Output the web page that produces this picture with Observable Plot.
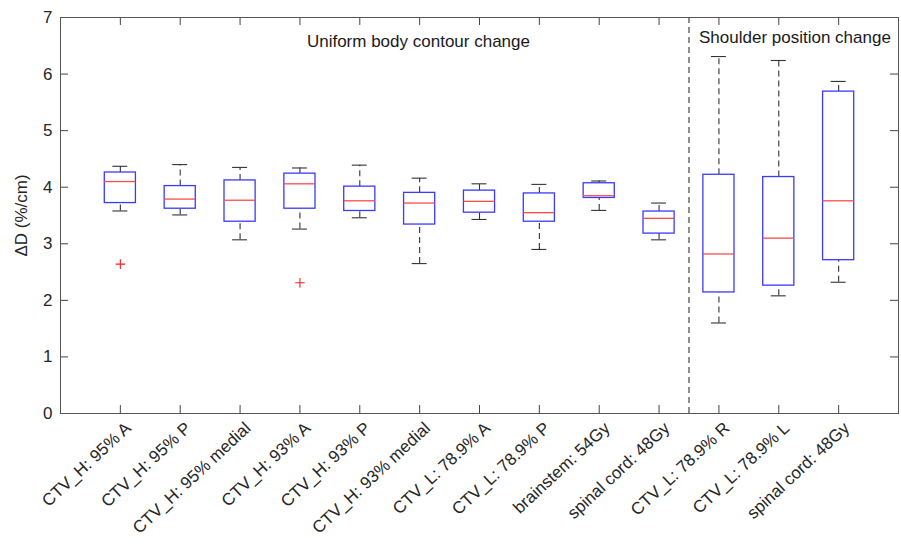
<!DOCTYPE html>
<html>
<head>
<meta charset="utf-8">
<script src="https://cdn.jsdelivr.net/npm/d3@7"></script>
<script src="https://cdn.jsdelivr.net/npm/@observablehq/plot@0.6"></script>
<style>
  html, body { margin: 0; padding: 0; background: #fff; }
  #chart { width: 901px; height: 545px; }
</style>
</head>
<body>
<div id="chart"></div>
<script>
const categories = [
  "CTV_H: 95% A", "CTV_H: 95% P", "CTV_H: 95% medial",
  "CTV_H: 93% A", "CTV_H: 93% P", "CTV_H: 93% medial",
  "CTV_L: 78.9% A", "CTV_L: 78.9% P", "brainstem: 54Gy",
  "spinal cord: 48Gy", "CTV_L: 78.9% R", "CTV_L: 78.9% L",
  "spinal cord: 48Gy"
];
const whiskerHigh = [4.37, 4.40, 4.35, 4.34, 4.39, 4.16, 4.06, 4.05, 4.11, 3.72, 6.31, 6.24, 5.87];
const q3Values    = [4.26, 4.02, 4.12, 4.24, 4.01, 3.90, 3.94, 3.89, 4.07, 3.57, 4.22, 4.18, 5.69];
const medians     = [4.10, 3.79, 3.77, 4.06, 3.76, 3.72, 3.75, 3.55, 3.85, 3.45, 2.82, 3.10, 3.76];
const q1Values    = [3.72, 3.62, 3.39, 3.62, 3.58, 3.34, 3.55, 3.39, 3.81, 3.18, 2.14, 2.26, 2.71];
const whiskerLow  = [3.58, 3.51, 3.07, 3.26, 3.46, 2.65, 3.43, 2.90, 3.59, 3.07, 1.60, 2.08, 2.32];
const outlierGroup = [1, 4];
const outlierValue = [2.64, 2.31];
const groupLabels = ["Uniform body contour change", "Shoulder position change"];
const yTicks = [0, 1, 2, 3, 4, 5, 6, 7];

const positions = categories.map((_, i) => i + 1);
const rows = categories.map((c, i) => ({
  pos: i + 1, label: c,
  hi: whiskerHigh[i], q3: q3Values[i], med: medians[i], q1: q1Values[i], lo: whiskerLow[i]
}));
const outliers = outlierGroup.map((g, i) => ({pos: g, v: outlierValue[i]}));

const boxHalf = 0.26, capHalf = 0.125;
const tickLenX = 0.134, tickLenY = 0.141;
const font = "'Liberation Sans', Arial, Helvetica, sans-serif";

const chart = Plot.plot({
  width: 901,
  height: 545,
  marginLeft: 60,
  marginRight: 3,
  marginTop: 17,
  marginBottom: 132,
  style: {fontFamily: font, fontSize: "17px", color: "#262626", background: "#fff"},
  x: {type: "linear", domain: [0, 14]},
  y: {domain: [0, 7]},
  marks: [
    // inward ticks
    Plot.ruleX(positions, {x: d => d, y1: 0, y2: tickLenY, stroke: "#444"}),
    Plot.ruleX(positions, {x: d => d, y1: 7, y2: 7 - tickLenY, stroke: "#444"}),
    Plot.ruleY(yTicks, {y: d => d, x1: 0, x2: tickLenX, stroke: "#444"}),
    Plot.ruleY(yTicks, {y: d => d, x1: 14, x2: 14 - tickLenX, stroke: "#444"}),
    // separator
    Plot.ruleX([10.5], {y1: 0, y2: 7, stroke: "#444", strokeDasharray: "6,4", strokeWidth: 1.2}),
    // whiskers
    Plot.ruleX(rows, {x: "pos", y1: "q3", y2: "hi", stroke: "#333", strokeDasharray: "6,4", strokeWidth: 1.1}),
    Plot.ruleX(rows, {x: "pos", y1: "lo", y2: "q1", stroke: "#333", strokeDasharray: "6,4", strokeWidth: 1.1}),
    Plot.ruleY(rows, {y: "hi", x1: d => d.pos - capHalf, x2: d => d.pos + capHalf, stroke: "#333", strokeWidth: 1.1}),
    Plot.ruleY(rows, {y: "lo", x1: d => d.pos - capHalf, x2: d => d.pos + capHalf, stroke: "#333", strokeWidth: 1.1}),
    // boxes
    Plot.rect(rows, {x1: d => d.pos - boxHalf, x2: d => d.pos + boxHalf, y1: "q1", y2: "q3", fill: "white", stroke: "#3a3aff", strokeWidth: 1.3}),
    // medians
    Plot.ruleY(rows, {y: "med", x1: d => d.pos - boxHalf, x2: d => d.pos + boxHalf, stroke: "#ff4a4a", strokeWidth: 1.3}),
    // outliers
    Plot.dot(outliers, {x: "pos", y: "v", symbol: "plus", stroke: "#ff2020", r: 3.2, strokeWidth: 1.1}),
    // group labels
    Plot.text([groupLabels[0]], {x: 5.98, y: 6.57, text: d => d, fontSize: 17, fill: "#1a1a1a"}),
    Plot.text([groupLabels[1]], {x: 12.27, y: 6.64, text: d => d, fontSize: 17, fill: "#1a1a1a"}),
    Plot.frame({stroke: "#555"}),
    Plot.axisY(yTicks, {tickSize: 0, tickPadding: 8, fontSize: 17, tickFormat: d => String(d), label: "ΔD (%/cm)", labelAnchor: "center", labelOffset: 46, labelArrow: "none"}),
    Plot.axisX(positions, {tickSize: 0, tickPadding: 12, tickRotate: -43, tickFormat: d => categories[d - 1], fontSize: 17, label: null, dx: 8})
  ]
});
document.getElementById("chart").appendChild(chart);
</script>
</body>
</html>
